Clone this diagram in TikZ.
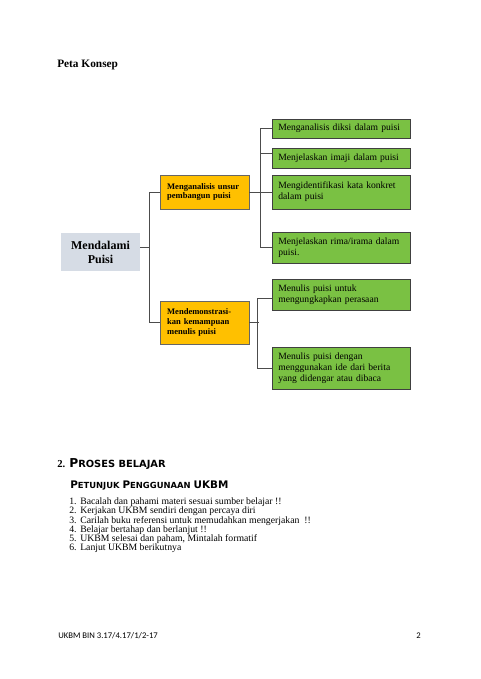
\documentclass[tikz,border=0pt]{standalone}
\usepackage{fontspec}
\setmainfont{Liberation Serif}
\newfontfamily\kalibri{Carlito}
\newfontfamily\judul{DejaVu Sans}
\usepackage{tikz}

\definecolor{hijau}{HTML}{7AC143}
\definecolor{oranye}{HTML}{FFC000}
\definecolor{abu}{HTML}{D6DCE5}

\tikzset{
	garis/.style={draw=black!70, line width=0.55pt},
	hijaubox/.style={draw=black!75, fill=hijau, line width=0.6pt, minimum width=103.5pt, text width=94pt, inner xsep=4.75pt, align=left, font=\fontsize{7.2}{8.2}\selectfont},
	oranyebox/.style={draw=black!60, fill=oranye, line width=0.6pt, minimum width=66.75pt, text width=56pt, inner xsep=5.4pt, align=left, font=\bfseries\fontsize{6.4}{7.4}\selectfont},
	intibox/.style={fill=abu, minimum width=59.25pt, minimum height=28.5pt, align=center, font=\bfseries\fontsize{9}{10.5}\selectfont},
	teks/.style={anchor=base west, inner sep=0pt, font=\fontsize{7.3}{8}\selectfont}
}

\begin{document}
\begin{tikzpicture}[x=0.75pt, y=-0.75pt]
	\useasboundingbox (0,0) rectangle (480,679);
	
	\node[anchor=base west, inner sep=0pt, font=\bfseries\fontsize{8.5}{10}\selectfont] (judulpeta) at (57,67) {Peta Konsep};
	
	% peta konsep
	\node[intibox] (inti) at (100.5,252) {Mendalami\\Puisi};
	\node[oranyebox, minimum height=25.5pt] (ukur) at (204.5,192) {Menganalisis unsur\\pembangun puisi};
	\node[oranyebox, minimum height=32.25pt] (nulis) at (204.5,322.5) {Mendemonstrasi-\\kan kemampuan\\menulis puisi};
	
	\node[hijaubox, minimum height=14.25pt] (g1) at (341,128.5) {Menganalisis diksi dalam puisi};
	\node[hijaubox, minimum height=15pt] (g2) at (341,158) {Menjelaskan imaji dalam puisi};
	\node[hijaubox, minimum height=25.5pt] (g3) at (341,192) {Mengidentifikasi kata konkret\\dalam puisi};
	\node[hijaubox, minimum height=23.25pt] (g4) at (341,247.5) {Menjelaskan rima/irama dalam\\puisi.};
	\node[hijaubox, minimum height=23.25pt] (g5) at (341,294.5) {Menulis puisi untuk\\mengungkapkan perasaan};
	\node[hijaubox, minimum height=31.5pt] (g6) at (341,368) {Menulis puisi dengan\\menggunakan ide dari berita\\yang didengar atau dibaca};
	
	\coordinate (cabang) at (150,247);
	\draw[garis] (inti.east |- cabang) -- (cabang);
	\draw[garis] (ukur.west) -- ++(-10,0) |- (nulis.west);
	
	\draw[garis] (ukur.east) -- (g3.west);
	\draw[garis] (g1.west) -- ++(-11,0) |- (g4.west);
	\draw[garis] ([yshift=3.75pt]g2.west) -- ++(-11,0);
	
	\draw[garis] (nulis.east) -- ++(10,0);
	\draw[garis] ([yshift=-2.6pt]g5.west) -- ++(-14,0) |- (g6.west);
	
	% proses belajar
	\node[anchor=base west, inner sep=0pt, font=\bfseries\fontsize{8}{9}\selectfont] (nomor) at (57,467) {2.};
	\node[anchor=base west, inner sep=0pt] (proses) at (69,467) {\judul\bfseries\fontsize{9.2}{9}\selectfont P\fontsize{7.4}{9}\selectfont ROSES BELAJAR};
	\node[anchor=base west, inner sep=0pt] (petunjuk) at (70,488) {\judul\bfseries\fontsize{7.8}{8}\selectfont P\fontsize{6.3}{8}\selectfont ETUNJUK \fontsize{7.8}{8}\selectfont P\fontsize{6.3}{8}\selectfont ENGGUNAAN \fontsize{7.8}{8}\selectfont UKBM};
	
	\foreach \i/\isi in {1/Bacalah dan pahami materi sesuai sumber belajar !!,
		2/Kerjakan UKBM sendiri dengan percaya diri,
		3/Carilah buku referensi untuk memudahkan mengerjakan \ !!,
		4/Belajar bertahap dan berlanjut !!,
		5/{UKBM selesai dan paham, Mintalah formatif},
		6/Lanjut UKBM berikutnya}{
		\node[teks] (no\i) at (69,504.5+9.25*\i-9.25) {\i.};
		\node[teks] (langkah\i) at (80,504.5+9.25*\i-9.25) {\isi};
	}
	
	\node[anchor=base west, inner sep=0pt, font=\kalibri\fontsize{6.5}{8}\selectfont] (kaki) at (58,638) {UKBM BIN 3.17/4.17/1/2-17};
	\node[anchor=base west, inner sep=0pt, font=\kalibri\fontsize{6.5}{8}\selectfont] (halaman) at (416,638) {2};
	
\end{tikzpicture}
\end{document}
